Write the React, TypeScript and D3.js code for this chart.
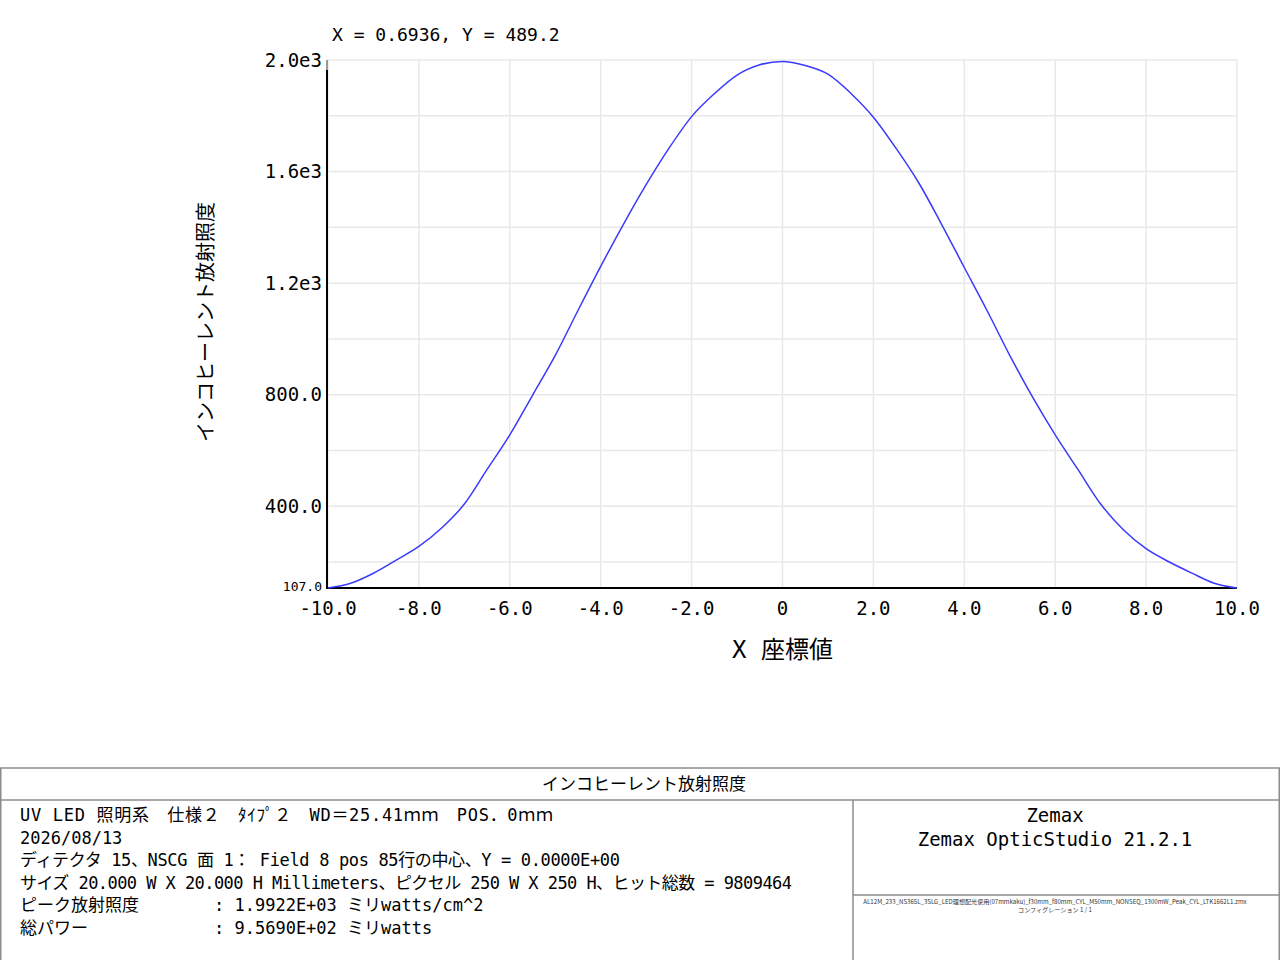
import * as d3 from "d3";

// irradiance profile along X (mm) at 0.5 mm steps
const xPos = [
  -10, -9.5, -9, -8.5, -8, -7.5, -7, -6.5, -6, -5.5, -5, -4.5, -4, -3.5, -3, -2.5, -2, -1.5, -1, -0.5,
  0, 0.5, 1, 1.5, 2, 2.5, 3, 3.5, 4, 4.5, 5, 5.5, 6, 6.5, 7, 7.5, 8, 8.5, 9, 9.5, 10,
];
const irradiance = [
  107, 124, 160, 207, 256, 322, 408, 532, 656, 798, 941, 1102, 1260, 1411, 1553, 1683, 1797, 1879, 1946, 1983,
  1995, 1980, 1949, 1881, 1795, 1683, 1559, 1411, 1256, 1102, 941, 792, 656, 532, 408, 316, 248, 201, 161, 124,
  107,
];

const xTicks = [-10, -8, -6, -4, -2, 0, 2, 4, 6, 8, 10];
const yTicks = [400, 800, 1200, 1600, 2000];
const yGrid = [200, 400, 600, 800, 1000, 1200, 1400, 1600, 1800, 2000];
const yMin = 107;

const cursorText = "X = 0.6936, Y = 489.2";
const yTitle = "インコヒーレント放射照度";
const xTitle = "X 座標値";
const panelTitle = "インコヒーレント放射照度";
const infoLines = [
  "UV LED 照明系　仕様２　ﾀｲﾌﾟ２　WD＝25.41ｍｍ　POS．0ｍｍ",
  "2026/08/13",
  "ディテクタ 15、NSCG 面 1： Field 8 pos 85行の中心、Y = 0.0000E+00",
  "サイズ 20.000 W X 20.000 H Millimeters、ピクセル 250 W X 250 H、ヒット総数 = 9809464",
];
const infoPairs = [
  ["ピーク放射照度", ": 1.9922E+03 ミリwatts/cm^2"],
  ["総パワー", ": 9.5690E+02 ミリwatts"],
];
const brandLines = ["Zemax", "Zemax OpticStudio 21.2.1"];
const fileLines = [
  "AL12M_233_NS365L_3SLG_LED理想配光使用(07mmkaku)_f30mm_f80mm_CYL_M50mm_NONSEQ_1300mW_Peak_CYL_LTK1662L1.zmx",
  "コンフィグレーション 1 / 1",
];

const MONO = "'DejaVu Sans Mono', 'Noto Sans CJK JP', monospace";
const SANS = "'Noto Sans CJK JP', 'Noto Sans', sans-serif";

const fmtY = (v: number) => (v >= 1000 ? `${(v / 1000).toFixed(1)}e3` : v.toFixed(1));

export default function App() {
  const left = 328;
  const right = 1237;
  const top = 60;
  const bottom = 588;

  const x = d3.scaleLinear().domain([-10, 10]).range([left, right]);
  const y = d3.scaleLinear().domain([yMin, 2000]).range([bottom, top]);

  const line = d3
    .line<number>()
    .x((_, i) => x(xPos[i]))
    .y((d) => y(d))
    .curve(d3.curveMonotoneX);

  // rendered widths of the info lines, to match the original spacing
  const infoWidths = [533, undefined, 600, 772];

  return (
    <svg
      width={1280}
      height={960}
      style={{ position: "fixed", left: 0, top: 0, background: "#fff" }}
    >
      <rect width={1280} height={960} fill="#fff" />

      {/* grid */}
      {yGrid.map((t) => (
        <line key={`hy${t}`} x1={left} x2={right} y1={y(t)} y2={y(t)} stroke="#e8e8e8" strokeWidth={1.5} />
      ))}
      {xTicks.map((t) => (
        <line key={`vx${t}`} x1={x(t)} x2={x(t)} y1={top} y2={bottom} stroke="#e8e8e8" strokeWidth={1.5} />
      ))}

      {/* axes */}
      <line x1={left - 1} x2={left - 1} y1={top} y2={top + 10} stroke="#999" strokeWidth={2} />
      <line x1={left - 1} x2={left - 1} y1={top + 10} y2={bottom + 1} stroke="#000" strokeWidth={2} />
      <line x1={left - 1} x2={right} y1={bottom} y2={bottom} stroke="#000" strokeWidth={2} />

      {/* curve */}
      <path d={line(irradiance) ?? ""} fill="none" stroke="#3a3aff" strokeWidth={1.5} />

      {/* y tick labels */}
      {yTicks.map((t) => (
        <text
          key={`yt${t}`}
          x={left - 6}
          y={y(t)}
          dy="0.35em"
          textAnchor="end"
          fontFamily={MONO}
          fontSize={19}
          fill="#000"
        >
          {fmtY(t)}
        </text>
      ))}
      <text x={left - 6} y={y(yMin) - 2} dy="0.35em" textAnchor="end" fontFamily={MONO} fontSize={13} fill="#000">
        {fmtY(yMin)}
      </text>

      {/* x tick labels */}
      {xTicks.map((t) => (
        <text
          key={`xt${t}`}
          x={x(t)}
          y={bottom + 27}
          textAnchor="middle"
          fontFamily={MONO}
          fontSize={19}
          fill="#000"
        >
          {t === 0 ? "0" : t.toFixed(1)}
        </text>
      ))}

      {/* titles */}
      <text x={332} y={41} fontFamily={MONO} fontSize={18} fill="#000">
        {cursorText}
      </text>
      <text
        transform={`translate(213,${(top + bottom) / 2 - 2}) rotate(-90)`}
        textAnchor="middle"
        fontFamily={SANS}
        fontSize={20}
        fill="#000"
      >
        {yTitle}
      </text>
      <text
        x={(left + right) / 2}
        y={658}
        textAnchor="middle"
        fontFamily={MONO}
        fontSize={24}
        fill="#000"
        style={{ whiteSpace: "pre" }}
      >
        {xTitle}
      </text>

      {/* info panel */}
      <g stroke="#8c8c8c" strokeWidth={1.5} fill="none">
        <rect x={0.75} y={768} width={1278.5} height={200} />
        <line x1={0} x2={1280} y1={800} y2={800} />
        <line x1={853} x2={853} y1={800} y2={960} />
        <line x1={853} x2={1280} y1={895} y2={895} />
      </g>
      <text x={644} y={790} textAnchor="middle" fontFamily={SANS} fontSize={17} fill="#000">
        {panelTitle}
      </text>
      {infoLines.map((s, i) => (
        <text
          key={`il${i}`}
          x={20}
          y={821 + i * 22.6}
          fontFamily={MONO}
          fontSize={17}
          fill="#000"
          textLength={infoWidths[i]}
          lengthAdjust="spacing"
          style={{ whiteSpace: "pre" }}
        >
          {s}
        </text>
      ))}
      {infoPairs.map(([a, b], i) => (
        <g key={`ip${i}`}>
          <text x={20} y={821 + (i + 4) * 22.6} fontFamily={MONO} fontSize={17} fill="#000">
            {a}
          </text>
          <text x={214} y={821 + (i + 4) * 22.6} fontFamily={MONO} fontSize={17} fill="#000">
            {b}
          </text>
        </g>
      ))}
      {brandLines.map((s, i) => (
        <text key={`bl${i}`} x={1055} y={822 + i * 24} textAnchor="middle" fontFamily={MONO} fontSize={19} fill="#000">
          {s}
        </text>
      ))}
      {fileLines.map((s, i) => (
        <text key={`fl${i}`} x={1055} y={904 + i * 8} textAnchor="middle" fontFamily={SANS} fontSize={6.1} fill="#333">
          {s}
        </text>
      ))}
    </svg>
  );
}
